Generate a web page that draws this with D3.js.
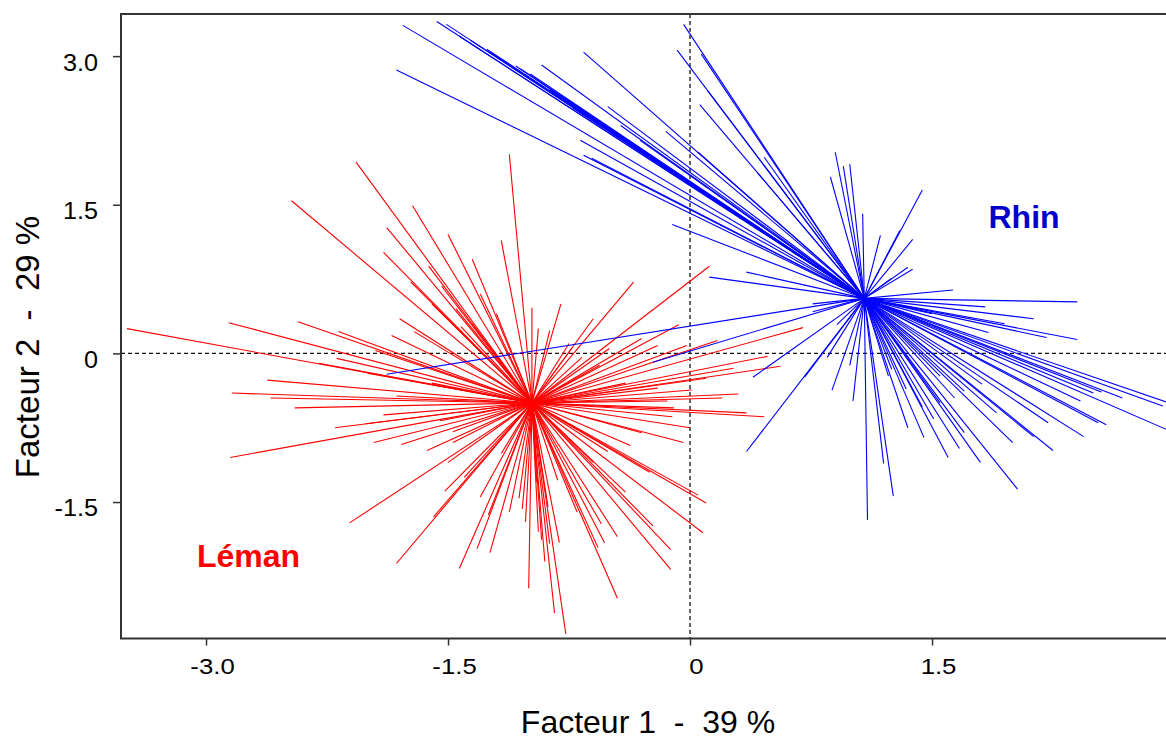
<!DOCTYPE html>
<html><head><meta charset="utf-8">
<script src="https://cdn.jsdelivr.net/npm/d3@7"></script>
<style>
html,body{margin:0;padding:0;background:#fff;}
svg{display:block;font-family:"Liberation Sans",Arial,sans-serif;}
</style></head>
<body>
<svg id="chart" width="1166" height="740"></svg>
<script>
// ---- data ----
const groups = ["Léman", "Rhin"];
const centroidX = [-0.98, 1.08];
const centroidY = [-0.50, 0.555];

const lemanX = [-2.07,-2.47,-1.72,-1.88,-1.90,-1.62,-1.54,-1.73,-3.49,-2.86,-2.43,-2.18,-1.85,-1.71,-1.95,-2.19,
  -2.62,-2.84,-2.45,-1.82,-2.01,-1.96,-1.79,-1.63,-2.85,-2.11,-1.82,-1.52,-1.59,
  -0.14,-0.11,0.46,-0.04,-0.37,-0.51,0.05,0.10,0.08,-0.23,-0.12,-0.12,-0.45,-0.53,-0.55,-0.57,-0.45,-0.77,-0.84,
  -0.81,-0.87,-0.92,-0.94,-1.00,-0.82,-1.04,-1.06,-1.12,-1.24,-1.32,-1.43,-1.17,-1.25,-1.47,-1.47,
  -1.12,-1.17,-0.98,-0.87,-0.94,-0.35,0.12,-0.07,-0.02,0.17,-0.20,0.48,0.56,0.27,0.30,0.01,0.70,-0.73,-0.67,-0.56,
  -1.42,-1.35,-2.30,-2.00,-1.60,-2.60,-1.90,-2.20,-1.55,-1.40,-1.30,-1.50,-0.95,-0.90,-1.02,-0.88,
  -0.70,-0.40,-0.25,-0.60,-0.30,0.00,-0.10,0.20,0.35,-0.20,0.10,-0.40,-0.50,-0.30,-0.60,-0.80,-0.75,
  -1.30,-1.45,-1.20,-1.60,-1.80,-1.35,-1.50];
const lemanY = [1.93,1.54,1.49,1.27,1.02,0.88,0.68,0.72,0.25,0.31,0.32,0.22,0.18,0.22,0.03,-0.05,
  -0.27,-0.40,-0.55,-0.43,-0.71,-0.90,-0.92,-0.98,-1.05,-1.71,-2.12,-1.39,-1.65,
  -0.48,-0.64,-0.64,-0.90,-0.93,-0.99,-1.43,-1.51,-1.81,-1.74,-1.98,-2.18,-1.85,-1.91,-1.72,-1.96,-2.47,-2.83,-2.62,
  -1.91,-1.92,-1.88,-1.80,-2.37,-1.28,-1.57,-1.46,-1.60,-2.01,-1.97,-2.17,-1.01,-1.63,-0.90,-0.79,
  2.01,1.14,0.46,0.23,0.25,0.72,0.88,0.29,0.08,0.13,0.08,-0.03,-0.13,-0.15,-0.41,-0.37,0.26,0.06,-0.04,-0.12,
  0.27,0.30,-0.10,-0.20,-0.30,-0.45,-0.62,-0.75,-0.68,-1.25,-1.45,-1.10,-1.30,-2.10,-1.70,-1.55,
  -1.60,-1.40,-1.20,-1.10,-0.80,-0.75,-0.55,-0.45,-0.60,-0.35,-0.25,-0.30,0.05,0.15,0.35,0.50,0.10,
  0.60,0.45,0.40,0.50,0.35,0.95,1.20];

const rhinX = [-1.78,-1.57,-1.51,-1.82,-1.26,-1.05,-0.92,-0.66,-0.51,-0.15,-0.68,-0.66,-0.04,-0.08,0.07,0.11,0.06,0.05,
  0.46,0.42,-0.11,-0.87,-0.73,0.90,0.95,0.99,0.87,1.07,1.44,1.18,1.38,0.12,0.35,-0.23,0.39,0.35,-1.88,
  2.40,1.63,1.83,2.13,1.85,2.21,2.40,3.04,2.93,3.07,2.68,2.58,2.53,2.42,2.50,2.55,2.44,2.25,2.22,2.13,2.03,
  1.67,1.70,1.64,1.81,1.51,1.44,1.34,1.23,1.25,1.55,1.26,1.20,1.10,1.01,0.99,0.88,0.85,0.71,0.91,0.76,0.76,
  1.30,1.35,1.38,1.25,
  -1.24,-1.08,-1.43,-1.36,-0.99,-0.81,-0.61,-0.43,-0.31,
  1.55,1.70,1.45,1.90,2.00,1.80,1.35,1.60,1.50,1.95];
const rhinY = [3.31,3.35,3.32,2.86,3.07,2.87,2.91,3.04,2.49,2.24,2.15,2.00,3.32,3.06,3.02,2.65,2.51,2.03,
  1.98,1.82,1.30,2.66,2.48,2.03,1.89,1.91,1.78,1.41,1.65,1.19,1.15,0.77,0.82,-0.09,-0.24,-0.99,-0.21,
  0.52,0.64,0.47,0.35,0.21,0.16,0.14,-0.54,-0.53,-0.85,-0.45,-0.72,-0.70,-0.48,-0.40,-0.39,-0.84,-0.98,-0.70,-0.84,-1.37,
  -0.96,-0.38,-0.45,-0.31,-0.66,-0.54,-0.36,-0.23,-0.16,-0.23,-1.44,-1.11,-1.68,-0.48,-0.12,-0.37,-0.04,-0.24,0.29,0.42,0.50,
  1.24,0.87,0.85,0.76,
  3.04,2.90,3.20,3.16,2.82,2.61,1.97,2.30,2.15,
  -0.50,-0.80,-0.85,-0.60,-0.90,-1.10,-0.75,-1.05,0.40,0.30];

const xTicks = [-3.0, -1.5, 0, 1.5];
const xTickLabels = ["-3.0", "-1.5", "0", "1.5"];
const yTicks = [3.0, 1.5, 0, -1.5];
const yTickLabels = ["3.0", "1.5", "0", "-1.5"];
const xTitle = "Facteur 1  -  39 %";
const yTitle = "Facteur 2  -  29 %";

// ---- drawing ----
const svg = d3.select("#chart");
const L = 121, R = 1170, T = 14, B = 638.5;
const x = d3.scaleLinear().domain([-3.527, 2.975]).range([L, R]);
const y = d3.scaleLinear().domain([-2.877, 3.425]).range([B, T]);

svg.append("defs").append("clipPath").attr("id","clip")
  .append("rect").attr("x",L).attr("y",T).attr("width",R-L).attr("height",B-T);

const plot = svg.append("g").attr("clip-path","url(#clip)");

// reference dashed lines
plot.append("line").attr("x1",x(0)).attr("x2",x(0)).attr("y1",T).attr("y2",B)
  .attr("stroke","#111").attr("stroke-width",1.3).attr("stroke-dasharray","4,3");
plot.append("line").attr("x1",L).attr("x2",R).attr("y1",y(0)).attr("y2",y(0))
  .attr("stroke","#111").attr("stroke-width",1.3).attr("stroke-dasharray","4,3");

const series = [
  {xs: lemanX, ys: lemanY, color: "#ff0000"},
  {xs: rhinX, ys: rhinY, color: "#0000ff"}
];
series.forEach((s, gi) => {
  const pts = s.xs.map((v, i) => [v, s.ys[i]]);
  plot.append("g").selectAll("line").data(pts).join("line")
    .attr("x1", x(centroidX[gi])).attr("y1", y(centroidY[gi]))
    .attr("x2", d => x(d[0])).attr("y2", d => y(d[1]))
    .attr("stroke", s.color).attr("stroke-width", 1.1);
});

// frame (left, top, bottom)
svg.append("path")
  .attr("d", `M${R},${T}H${L}V${B}H${R}`)
  .attr("fill","none").attr("stroke","#333").attr("stroke-width",2);

// axes
const xAxis = svg.append("g").attr("transform",`translate(0,${B})`)
  .call(d3.axisBottom(x).tickValues(xTicks).tickFormat((d,i)=>xTickLabels[i]).tickSize(7).tickPadding(12));
const yAxis = svg.append("g").attr("transform",`translate(${L},0)`)
  .call(d3.axisLeft(y).tickValues(yTicks).tickFormat((d,i)=>yTickLabels[i]).tickSize(8).tickPadding(15));
[xAxis, yAxis].forEach(a => {
  a.select(".domain").remove();
  a.selectAll(".tick line").attr("stroke","#333").attr("stroke-width",1.5);
  a.selectAll(".tick text").attr("fill","#000")
    .style("font-family",'"Liberation Sans",Arial,sans-serif');
});
xAxis.selectAll(".tick text").style("font-size","23px")
  .attr("transform","translate(6,0) scale(1.12,1)");
yAxis.selectAll(".tick text").style("font-size","24px").attr("dy","0.58em")
  .attr("transform","translate(-23,0) scale(1.05,1) translate(23,0)");

// axis titles
svg.append("text").attr("x",648).attr("y",733).attr("text-anchor","middle")
  .style("font-size","32px").style("white-space","pre").attr("fill","#000").text(xTitle);
svg.append("text").attr("transform","translate(39,347) rotate(-90)").attr("text-anchor","middle")
  .style("font-size","33px").style("white-space","pre").attr("fill","#000").text(yTitle);

// group labels
svg.append("text").attr("x",x(1.85)).attr("y",228).attr("fill","#0000cc")
  .style("font-size","32px").style("font-weight","bold").text(groups[1]);
svg.append("text").attr("x",197).attr("y",567).attr("fill","#ff0000")
  .style("font-size","32px").style("font-weight","bold").text(groups[0]);
</script>
</body></html>
